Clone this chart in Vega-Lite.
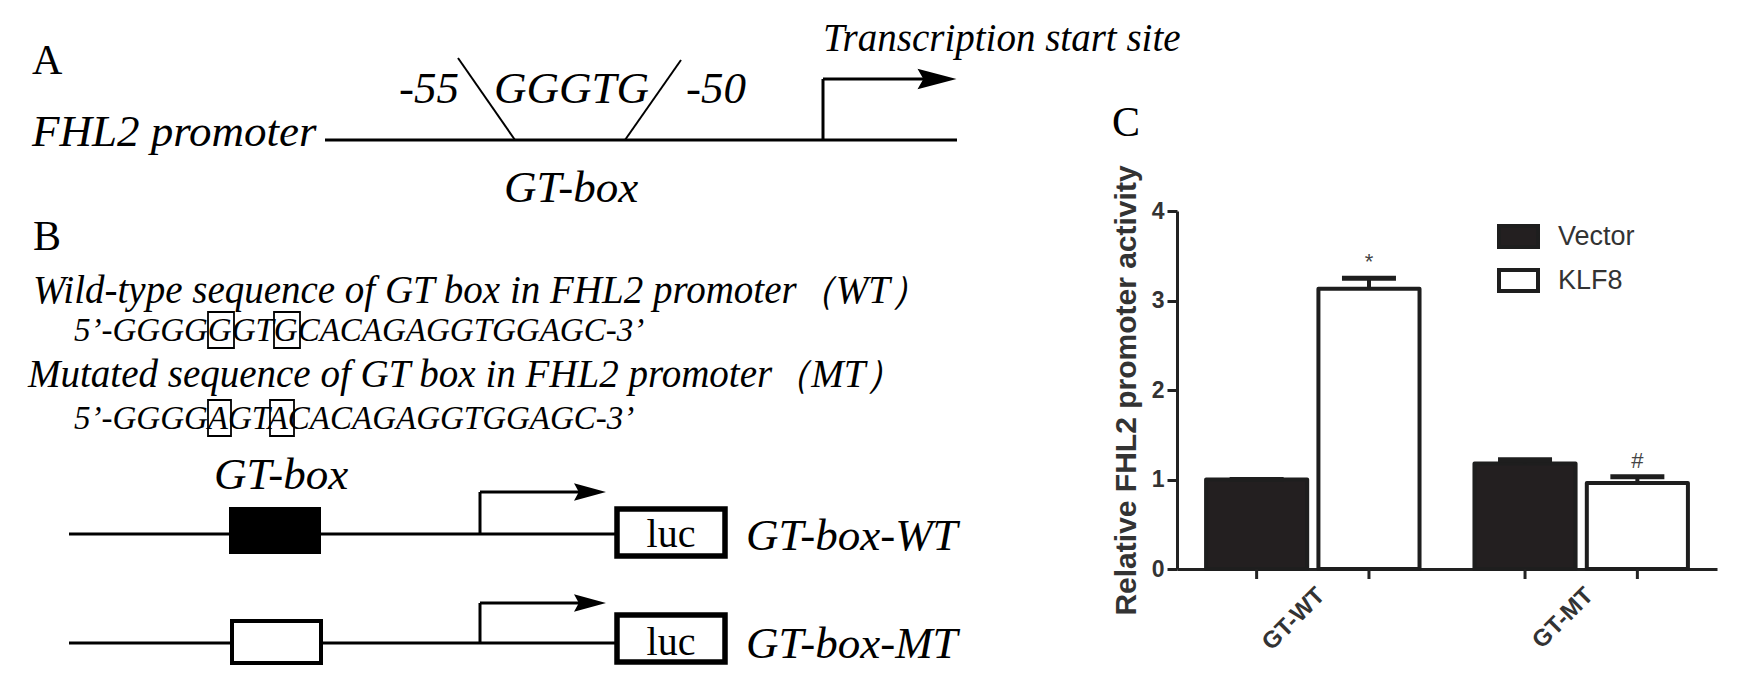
{
  "$schema": "https://vega.github.io/schema/vega-lite/v6.json",
  "autosize": {"type": "none"},
  "padding": {"left": 1177, "top": 211, "right": 20, "bottom": 128},
  "width": 540,
  "height": 358,
  "background": "white",
  "config": {"view": {"stroke": null}},
  "datasets": {
    "bars": [
      {"construct": "GT-WT", "condition": "Vector", "value": 1.0, "hi": 1.0, "sig": ""},
      {"construct": "GT-WT", "condition": "KLF8", "value": 3.13, "hi": 3.25, "sig": "*"},
      {"construct": "GT-MT", "condition": "Vector", "value": 1.18, "hi": 1.22, "sig": ""},
      {"construct": "GT-MT", "condition": "KLF8", "value": 0.96, "hi": 1.03, "sig": "#"}
    ],
    "segThick": [
      {"x": 325, "y": 140, "x2": 957, "y2": 140},
      {"x": 823, "y": 140, "x2": 823, "y2": 79},
      {"x": 823, "y": 79, "x2": 925, "y2": 79},
      {"x": 69, "y": 534, "x2": 615, "y2": 534},
      {"x": 480, "y": 534, "x2": 480, "y2": 492},
      {"x": 480, "y": 492, "x2": 580, "y2": 492},
      {"x": 69, "y": 643, "x2": 615, "y2": 643},
      {"x": 480, "y": 643, "x2": 480, "y2": 603},
      {"x": 480, "y": 603, "x2": 580, "y2": 603}
    ],
    "segThin": [
      {"x": 458, "y": 58, "x2": 515, "y2": 140},
      {"x": 681, "y": 60, "x2": 625, "y2": 140}
    ],
    "headA": [{"x": 937, "y": 79}],
    "headB": [{"x": 590, "y": 492}, {"x": 590, "y": 603}],
    "boxFilled": [{"x": 230, "y": 508, "x2": 320, "y2": 553}],
    "boxOpen": [{"x": 232, "y": 621, "x2": 321, "y2": 663}],
    "lucBox": [
      {"x": 617, "y": 509, "x2": 725, "y2": 556},
      {"x": 617, "y": 615, "x2": 725, "y2": 662}
    ],
    "seqBox": [
      {"x": 208, "y": 312, "x2": 234, "y2": 348},
      {"x": 274, "y": 312, "x2": 300, "y2": 348},
      {"x": 208, "y": 400, "x2": 231, "y2": 436},
      {"x": 270, "y": 400, "x2": 294, "y2": 436}
    ],
    "txtBig": [
      {"t": "FHL2 promoter", "x": 32, "y": 146},
      {"t": "-55", "x": 399, "y": 103},
      {"t": "GGGTG", "x": 494, "y": 103},
      {"t": "-50", "x": 686, "y": 103},
      {"t": "GT-box", "x": 504, "y": 202},
      {"t": "GT-box", "x": 214, "y": 489},
      {"t": "GT-box-WT", "x": 746, "y": 550},
      {"t": "GT-box-MT", "x": 746, "y": 658}
    ],
    "txtMid": [{"t": "Transcription start site", "x": 823, "y": 51}],
    "txtLine": [
      {"t": "Wild-type sequence of GT box in FHL2 promoter（WT）", "x": 33, "y": 303},
      {"t": "Mutated sequence of GT box in FHL2 promoter（MT）", "x": 28, "y": 387}
    ],
    "txtSeq": [
      {"t": "5’-GGGGGGTGCACAGAGGTGGAGC-3’", "x": 74, "y": 341},
      {"t": "5’-GGGGAGTACACAGAGGTGGAGC-3’", "x": 74, "y": 429}
    ],
    "txtPanel": [
      {"t": "A", "x": 32, "y": 74},
      {"t": "B", "x": 33, "y": 250},
      {"t": "C", "x": 1112, "y": 136}
    ],
    "txtLuc": [
      {"t": "luc", "x": 671, "y": 547},
      {"t": "luc", "x": 671, "y": 655}
    ]
  },
  "layer": [
    {
      "data": {"name": "bars"},
      "encoding": {
        "x": {
          "field": "construct", "type": "nominal", "sort": ["GT-WT", "GT-MT"],
          "scale": {"paddingInner": 0.188, "paddingOuter": 0.1},
          "axis": {
            "title": null, "labelAngle": -45, "ticks": false,
            "labelFont": "Liberation Sans", "labelFontWeight": "bold", "labelFontSize": 24,
            "labelColor": "#333333", "labelPadding": 14,
            "domainWidth": 3, "domainColor": "#222222"
          }
        },
        "xOffset": {
          "field": "condition", "type": "nominal", "sort": ["Vector", "KLF8"],
          "scale": {"paddingInner": 0.1, "paddingOuter": 0.02}
        }
      },
      "layer": [
        {
          "mark": {"type": "bar", "stroke": "#1e1e1e", "strokeWidth": 4, "strokeJoin": "round"},
          "encoding": {
            "y": {
              "field": "value", "type": "quantitative",
              "scale": {"domain": [0, 4], "nice": false},
              "axis": {
                "title": "Relative FHL2 promoter activity", "values": [0, 1, 2, 3, 4], "format": "d",
                "tickSize": 10, "tickWidth": 3, "tickColor": "#222222",
                "domainWidth": 3, "domainColor": "#222222", "grid": false,
                "labelFont": "Liberation Sans", "labelFontSize": 23, "labelFontWeight": "bold",
                "labelColor": "#333333", "labelPadding": 3,
                "titleFont": "Liberation Sans", "titleFontSize": 30, "titleFontWeight": "bold",
                "titleColor": "#333333", "titlePadding": 10
              }
            },
            "fill": {
              "field": "condition", "type": "nominal",
              "scale": {"domain": ["Vector", "KLF8"], "range": ["#231f20", "#ffffff"]},
              "legend": {
                "title": null, "orient": "none", "legendX": 320, "legendY": 4,
                "symbolType": "M-1,-0.54H1V0.54H-1Z", "symbolSize": 1521,
                "symbolStrokeColor": "#1e1e1e", "symbolStrokeWidth": 4,
                "labelFont": "Liberation Sans", "labelFontSize": 27, "labelColor": "#333333",
                "labelOffset": 18, "rowPadding": 3, "padding": 0
              }
            }
          }
        },
        {
          "mark": {"type": "rule", "stroke": "#1e1e1e", "strokeWidth": 4},
          "encoding": {
            "y": {"field": "value", "type": "quantitative"},
            "y2": {"field": "hi"}
          }
        },
        {
          "mark": {"type": "tick", "color": "#1e1e1e", "size": 54, "thickness": 5, "opacity": 1},
          "encoding": {
            "y": {"field": "hi", "type": "quantitative"}
          }
        },
        {
          "mark": {"type": "text", "font": "Liberation Sans", "fontSize": 22, "color": "#444444", "dy": -16, "baseline": "middle"},
          "encoding": {
            "y": {"field": "hi", "type": "quantitative"},
            "text": {"field": "sig"}
          }
        },
        {
          "mark": {"type": "rule", "stroke": "#222222", "strokeWidth": 3},
          "encoding": {
            "y": {"datum": 0, "type": "quantitative"},
            "y2": {"datum": -0.112}
          }
        }
      ]
    },
    {
      "encoding": {
        "x": {"field": "x", "type": "quantitative", "scale": {"domain": [1177, 1717], "nice": false, "zero": false}, "axis": null},
        "y": {"field": "y", "type": "quantitative", "scale": {"domain": [211, 569], "reverse": true, "nice": false, "zero": false}, "axis": null}
      },
      "layer": [
        {"data": {"name": "segThick"}, "mark": {"type": "rule", "stroke": "black", "strokeWidth": 3}, "encoding": {"x2": {"field": "x2"}, "y2": {"field": "y2"}}},
        {"data": {"name": "segThin"}, "mark": {"type": "rule", "stroke": "black", "strokeWidth": 2}, "encoding": {"x2": {"field": "x2"}, "y2": {"field": "y2"}}},
        {"data": {"name": "headA"}, "mark": {"type": "point", "shape": "M-1,-0.52L1,0L-1,0.52L-0.7,0Z", "size": 1521, "filled": true, "color": "black", "opacity": 1}},
        {"data": {"name": "headB"}, "mark": {"type": "point", "shape": "M-1,-0.55L1,0L-1,0.55L-0.7,0Z", "size": 1024, "filled": true, "color": "black", "opacity": 1}},
        {"data": {"name": "boxFilled"}, "mark": {"type": "rect", "fill": "black", "stroke": "black", "strokeWidth": 2}, "encoding": {"x2": {"field": "x2"}, "y2": {"field": "y2"}}},
        {"data": {"name": "boxOpen"}, "mark": {"type": "rect", "fill": "white", "stroke": "black", "strokeWidth": 4}, "encoding": {"x2": {"field": "x2"}, "y2": {"field": "y2"}}},
        {"data": {"name": "lucBox"}, "mark": {"type": "rect", "fill": "white", "stroke": "black", "strokeWidth": 5.5}, "encoding": {"x2": {"field": "x2"}, "y2": {"field": "y2"}}},
        {"data": {"name": "seqBox"}, "mark": {"type": "rect", "fill": null, "fillOpacity": 0, "stroke": "black", "strokeWidth": 1.8}, "encoding": {"x2": {"field": "x2"}, "y2": {"field": "y2"}}},
        {"data": {"name": "txtBig"}, "mark": {"type": "text", "font": "Liberation Serif", "fontStyle": "italic", "fontSize": 45, "align": "left", "baseline": "alphabetic", "color": "black"}, "encoding": {"text": {"field": "t"}}},
        {"data": {"name": "txtMid"}, "mark": {"type": "text", "font": "Liberation Serif", "fontStyle": "italic", "fontSize": 39, "align": "left", "baseline": "alphabetic", "color": "black"}, "encoding": {"text": {"field": "t"}}},
        {"data": {"name": "txtLine"}, "mark": {"type": "text", "font": "Liberation Serif", "fontStyle": "italic", "fontSize": 39, "align": "left", "baseline": "alphabetic", "color": "black"}, "encoding": {"text": {"field": "t"}}},
        {"data": {"name": "txtSeq"}, "mark": {"type": "text", "font": "Liberation Serif", "fontStyle": "italic", "fontSize": 33, "align": "left", "baseline": "alphabetic", "color": "black"}, "encoding": {"text": {"field": "t"}}},
        {"data": {"name": "txtPanel"}, "mark": {"type": "text", "font": "Liberation Serif", "fontSize": 42, "align": "left", "baseline": "alphabetic", "color": "black"}, "encoding": {"text": {"field": "t"}}},
        {"data": {"name": "txtLuc"}, "mark": {"type": "text", "font": "Liberation Serif", "fontSize": 40, "align": "center", "baseline": "alphabetic", "color": "black"}, "encoding": {"text": {"field": "t"}}}
      ]
    }
  ],
  "resolve": {"scale": {"x": "independent", "y": "independent"}}
}
